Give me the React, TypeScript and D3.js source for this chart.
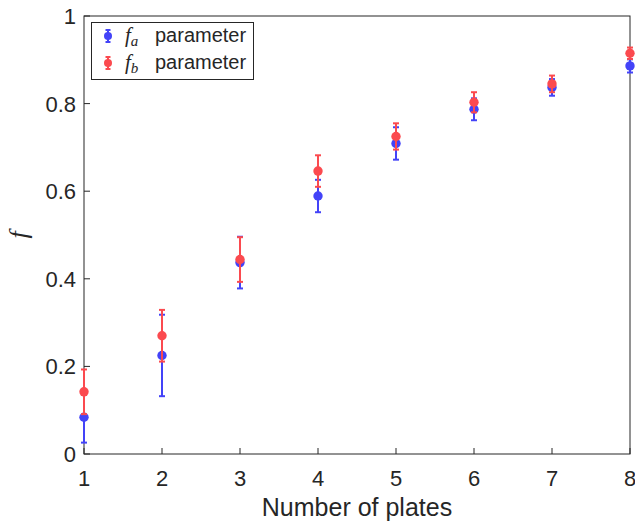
import React from 'react';
import * as d3 from 'd3';

const plates = [1, 2, 3, 4, 5, 6, 7, 8];
const faValues = [0.084, 0.225, 0.437, 0.589, 0.709, 0.787, 0.837, 0.886];
const faErrors = [0.058, 0.093, 0.059, 0.037, 0.037, 0.025, 0.019, 0.015];
const fbValues = [0.142, 0.27, 0.444, 0.646, 0.725, 0.803, 0.845, 0.915];
const fbErrors = [0.051, 0.059, 0.051, 0.036, 0.03, 0.023, 0.019, 0.013];
const yTicks = [0, 0.2, 0.4, 0.6, 0.8, 1];
const yTickLabels = ['0', '0.2', '0.4', '0.6', '0.8', '1'];

const width = 635;
const height = 525;
const margin = { top: 16, right: 5, bottom: 71, left: 84 };

const blue = '#4343f8';
const red = '#fb4a4f';
const axisColor = '#262626';
const sans = '"Liberation Sans", Arial, Helvetica, sans-serif';
const serif = '"Liberation Serif", "Times New Roman", serif';

const series = [
  { name: 'a', values: faValues, errors: faErrors, color: blue },
  { name: 'b', values: fbValues, errors: fbErrors, color: red },
];

export default function App() {
  const x = d3.scaleLinear().domain([1, 8]).range([margin.left, width - margin.right]);
  const y = d3.scaleLinear().domain([0, 1]).range([height - margin.bottom, margin.top]);
  const x0 = x.range()[0];
  const x1 = x.range()[1];
  const y0 = y.range()[0];
  const y1 = y.range()[1];
  const cap = 3;

  return (
    <div style={{ position: 'absolute', left: 0, top: 0 }}>
      <svg width={width} height={height} style={{ display: 'block', background: '#fff' }}>
        {/* frame */}
        <rect x={x0} y={y1} width={x1 - x0} height={y0 - y1} fill="none" stroke={axisColor} strokeWidth={1} />
        {/* ticks */}
        {plates.map((p) => (
          <g key={'xt' + p}>
            <line x1={x(p)} x2={x(p)} y1={y0} y2={y0 - 6} stroke={axisColor} />
            <text x={x(p)} y={y0 + 32} textAnchor="middle" fontFamily={sans} fontSize={22} fill={axisColor}>
              {p}
            </text>
          </g>
        ))}
        {yTicks.map((t, i) => (
          <g key={'yt' + i}>
            <line x1={x0} x2={x0 + 6} y1={y(t)} y2={y(t)} stroke={axisColor} />
            <text x={x0 - 8} y={y(t)} dy="0.36em" textAnchor="end" fontFamily={sans} fontSize={22} fill={axisColor}>
              {yTickLabels[i]}
            </text>
          </g>
        ))}
        <text x={(x0 + x1) / 2} y={y0 + 62} textAnchor="middle" fontFamily={sans} fontSize={25} fill={axisColor}>
          Number of plates
        </text>
        <text
          transform={`translate(27, ${(y0 + y1) / 2}) rotate(-90)`}
          textAnchor="middle"
          fontFamily={serif}
          fontStyle="italic"
          fontSize={26}
          fill={axisColor}
        >
          f
        </text>
        {/* error bars and points */}
        {series.map((s) => (
          <g key={s.name}>
            {plates.map((p, i) => {
              const cx = x(p);
              const top = y(s.values[i] + s.errors[i]);
              const bot = y(s.values[i] - s.errors[i]);
              return (
                <g key={p} stroke={s.color} strokeWidth={2}>
                  <line x1={cx} x2={cx} y1={top} y2={bot} />
                  <line x1={cx - cap} x2={cx + cap} y1={top} y2={top} />
                  <line x1={cx - cap} x2={cx + cap} y1={bot} y2={bot} />
                  <circle cx={cx} cy={y(s.values[i])} r={4.7} fill={s.color} stroke="none" />
                </g>
              );
            })}
          </g>
        ))}
        {/* legend */}
        <g>
          <rect x={91.5} y={22.5} width={162} height={57} fill="#fff" stroke={axisColor} strokeWidth={1} />
          {series.map((s, i) => {
            const ly = 36 + i * 27;
            return (
              <g key={'lg' + s.name}>
                <g stroke={s.color} strokeWidth={2}>
                  <line x1={108} x2={108} y1={ly - 6} y2={ly + 6} />
                  <line x1={105.5} x2={110.5} y1={ly - 6} y2={ly - 6} />
                  <line x1={105.5} x2={110.5} y1={ly + 6} y2={ly + 6} />
                  <circle cx={108} cy={ly} r={4} fill={s.color} stroke="none" />
                </g>
                <text x={125} y={ly + 6} fontFamily={serif} fontStyle="italic" fontSize={21} fill={axisColor}>
                  f
                  <tspan dy={4} fontSize={15}>
                    {s.name}
                  </tspan>
                </text>
                <text x={155} y={ly + 6} fontFamily={sans} fontSize={20} fill={axisColor}>
                  parameter
                </text>
              </g>
            );
          })}
        </g>
      </svg>
    </div>
  );
}
